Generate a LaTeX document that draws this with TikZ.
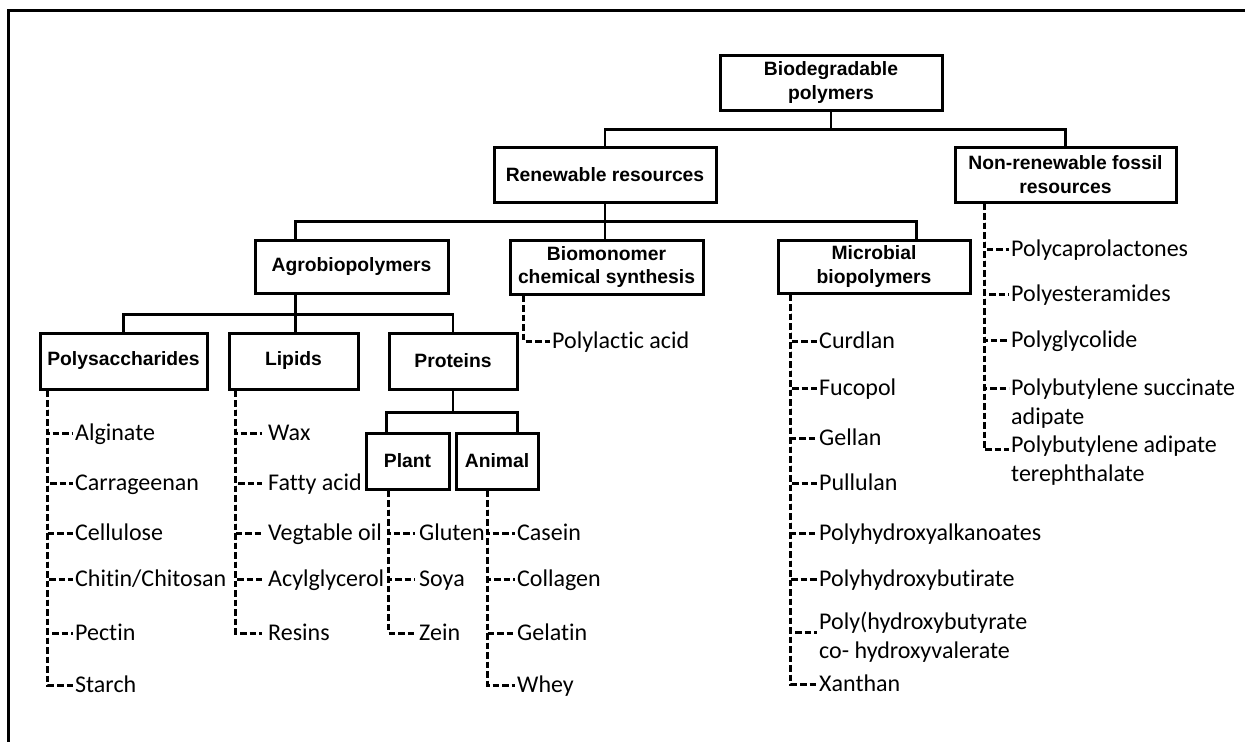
\documentclass[tikz,border=0pt]{standalone}
\usepackage{fontspec}
\setmainfont{Carlito}[Ligatures = NoCommon]
\newfontfamily\arialfont{Liberation Sans}
\usetikzlibrary{calc}

\tikzstyle{box} = [draw = black, line width = 3pt, inner sep = 0pt, align = center, font = \arialfont\bfseries\fontsize{19.3}{23.5}\selectfont]
\tikzstyle{ln} = [draw = black, line width = 2.8pt]
\tikzstyle{dl} = [draw = black, line width = 3pt, dash pattern = on 6.5pt off 3pt]
\tikzstyle{it} = [anchor = west, inner xsep = 2pt, inner ysep = 0pt, text height = 18pt, text depth = 4pt, font = \fontsize{24}{29}\selectfont]
\tikzstyle{itt} = [anchor = north west, inner xsep = 2pt, inner ysep = 0pt, align = left, font = \fontsize{24}{29}\selectfont]

\begin{document}
\begin{tikzpicture}[x = 1pt, y = -1pt]
        \useasboundingbox (0,0) rectangle (1245,742);
        \draw [line width = 3pt] (1245,10) -- (8,10) -- (8,742);

        \node [box, minimum width = 222pt, minimum height = 55pt] (bio) at (831,82.5) {Biodegradable\\polymers};
        \node [box, minimum width = 222pt, minimum height = 55pt] (ren) at (605,174.5) {Renewable resources};
        \node [box, minimum width = 221pt, minimum height = 55pt] (non) at (1065.5,174.5) {Non-renewable fossil\\resources};
        \node [box, minimum width = 193pt, minimum height = 53pt] (agro) at (351.5,266.5) {Agrobiopolymers};
        \node [box, minimum width = 193pt, minimum height = 54pt] (bmn) at (606.5,267) {Biomonomer\\chemical synthesis};
        \node [box, minimum width = 192pt, minimum height = 53pt] (mic) at (874,266.5) {Microbial\\biopolymers};
        \node [box, minimum width = 167pt, minimum height = 56pt] (poly) at (123.5,361) {Polysaccharides};
        \node [box, minimum width = 129pt, minimum height = 56pt] (lip) at (293.5,361) {Lipids};
        \node [box, minimum width = 128pt, minimum height = 56pt] (prot) at (453,361) {Proteins};
        \node [box, minimum width = 83pt, minimum height = 56pt] (plant) at (407.5,461) {Plant};
        \node [box, minimum width = 82pt, minimum height = 56pt] (anim) at (497,461) {Animal};

        \draw [ln] (bio.south) -- ++(0,18) coordinate (bj);
        \draw [ln] (ren.north) |- (bj) -| (non.north);
        \draw [ln] (ren.south) -- ++(0,18) coordinate (rj);
        \draw [ln] ($(agro.north west)+(42,0)$) |- (rj) -| ($(mic.north west)+(140,0)$);
        \draw [ln] (rj) -- (rj |- bmn.north);
        \draw [ln] ($(agro.south west)+(42,0)$) -- ++(0,20) coordinate (aj);
        \draw [ln] (poly.north) |- (aj) -| (prot.north);
        \draw [ln] (aj) -- (aj |- lip.north);
        \draw [ln] (prot.south) -- ++(0,22) coordinate (pj);
        \draw [ln] ($(plant.north west)+(22,0)$) |- (pj) -| ($(anim.north east)+(-22,0)$);

        \node [it] (alg) at (73,433) {Alginate};
        \node [it] (car) at (73,483) {Carrageenan};
        \node [it] (cel) at (73,533) {Cellulose};
        \node [it] (chi) at (73,579) {Chitin/Chitosan};
        \node [it] (pec) at (73,633) {Pectin};
        \node [it] (sta) at (73,685) {Starch};
        \coordinate (pd) at ($(poly.south west)+(9,0)$);
        \draw [dl] (pd) |- (alg.west);
        \draw [dl] (pd) |- (car.west);
        \draw [dl] (pd) |- (cel.west);
        \draw [dl] (pd) |- (chi.west);
        \draw [dl] (pd) |- (pec.west);
        \draw [dl] (pd) |- (sta.west);

        \node [it, inner xsep = 6pt] (wax) at (262,433) {Wax};
        \node [it, inner xsep = 6pt] (fat) at (262,483) {Fatty acid};
        \node [it, inner xsep = 6pt] (veg) at (262,533) {Vegtable oil};
        \node [it, inner xsep = 6pt] (acy) at (262,579) {Acylglycerol};
        \node [it, inner xsep = 6pt] (res) at (262,633) {Resins};
        \coordinate (ld) at ($(lip.south west)+(8,0)$);
        \draw [dl] (ld) |- (wax.west);
        \draw [dl] (ld) |- (fat.west);
        \draw [dl] (ld) |- (veg.west);
        \draw [dl] (ld) |- (acy.west);
        \draw [dl] (ld) |- (res.west);

        \node [it, inner xsep = 4pt] (glu) at (415,533) {Gluten};
        \node [it, inner xsep = 4pt] (soy) at (415,579) {Soya};
        \node [it, inner xsep = 4pt] (zei) at (415,633) {Zein};
        \coordinate (pld) at ($(plant.south west)+(24,0)$);
        \draw [dl] (pld) |- (glu.west);
        \draw [dl] (pld) |- (soy.west);
        \draw [dl] (pld) |- (zei.west);

        \node [it] (cas) at (515,533) {Casein};
        \node [it] (col) at (515,579) {Collagen};
        \node [it] (gel) at (515,633) {Gelatin};
        \node [it] (whe) at (515,685) {Whey};
        \coordinate (and) at ($(anim.south west)+(33,0)$);
        \draw [dl] (and) |- (cas.west);
        \draw [dl] (and) |- (col.west);
        \draw [dl] (and) |- (gel.west);
        \draw [dl] (and) |- (whe.west);

        \node [it] (pla) at (550,341) {Polylactic acid};
        \draw [dl] ($(bmn.south west)+(15,0)$) |- (pla.west);

        \node [it] (cur) at (817,341) {Curdlan};
        \node [it] (fuc) at (817,388) {Fucopol};
        \node [it] (gea) at (817,438) {Gellan};
        \node [it] (pul) at (817,483) {Pullulan};
        \node [it] (pha) at (817,533) {Polyhydroxyalkanoates};
        \node [it] (phb) at (817,579) {Polyhydroxybutirate};
        \node [itt] (phv) at (817,608.7) {\strut Poly(hydroxybutyrate\\\strut co- hydroxyvalerate};
        \node [it] (xan) at (817,684) {Xanthan};
        \coordinate (md) at ($(mic.south west)+(14,0)$);
        \draw [dl] (md) |- (cur.west);
        \draw [dl] (md) |- (fuc.west);
        \draw [dl] (md) |- (gea.west);
        \draw [dl] (md) |- (pul.west);
        \draw [dl] (md) |- (pha.west);
        \draw [dl] (md) |- (phb.west);
        \draw [dl] (md) |- ($(phv.north west)+(0,23.3)$);
        \draw [dl] (md) |- (xan.west);

        \node [it] (pcl) at (1009,249) {Polycaprolactones};
        \node [it] (pea) at (1009,294) {Polyesteramides};
        \node [it] (pgl) at (1009,340) {Polyglycolide};
        \node [itt] (pbs) at (1009,374.7) {\strut Polybutylene succinate\\\strut adipate};
        \node [itt] (pba) at (1009,431.7) {\strut Polybutylene adipate\\\strut terephthalate};
        \coordinate (nd) at ($(non.south west)+(31,0)$);
        \draw [dl] (nd) |- (pcl.west);
        \draw [dl] (nd) |- (pea.west);
        \draw [dl] (nd) |- (pgl.west);
        \draw [dl] (nd) |- ($(pbs.north west)+(0,13.3)$);
        \draw [dl] (nd) |- ($(pba.north west)+(0,18)$);
    \end{tikzpicture}
\end{document}
